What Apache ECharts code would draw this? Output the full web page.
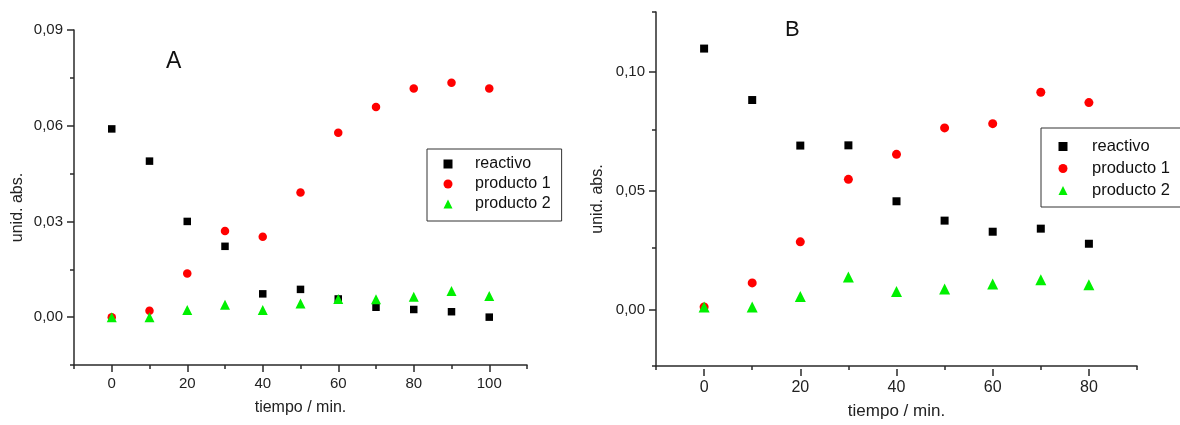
<!DOCTYPE html>
<html>
<head>
<meta charset="utf-8">
<script src="https://cdn.jsdelivr.net/npm/echarts@6/dist/echarts.min.js"></script>
<style>
  html, body { margin: 0; padding: 0; background: #fff; }
  #chart { width: 1180px; height: 425px; }
</style>
</head>
<body>
<div id="chart"></div>
<script>
// panel A
const timesA = [0, 10, 20, 30, 40, 50, 60, 70, 80, 90, 100];
const reactivoA = [0.059, 0.0489, 0.030, 0.0222, 0.0073, 0.0087, 0.0057, 0.0031, 0.0024, 0.0017, 0.0];
const producto1A = [0.0, 0.0020, 0.0137, 0.0270, 0.0252, 0.0391, 0.0578, 0.0659, 0.0717, 0.0735, 0.0717];
const producto2A = [0.0, 0.0, 0.0022, 0.0039, 0.0022, 0.0043, 0.0057, 0.0056, 0.0064, 0.0082, 0.0066];
// labelled ticks: [first, last, step]
const xTicksA = [0, 100, 20];
const yTicksA = [0, 0.09, 0.03];

// panel B
const timesB = [0, 10, 20, 30, 40, 50, 60, 70, 80];
const reactivoB = [0.1095, 0.0877, 0.0684, 0.0685, 0.0448, 0.0366, 0.0319, 0.0332, 0.0268];
const producto1B = [0.0, 0.0102, 0.0276, 0.0541, 0.0647, 0.0759, 0.0777, 0.0910, 0.0866];
const producto2B = [0.0, 0.0, 0.0045, 0.0127, 0.0066, 0.0076, 0.0097, 0.0115, 0.0094];
const xTicksB = [0, 80, 20];
const yTicksB = [0, 0.10, 0.05];

const names = ["reactivo", "producto 1", "producto 2"];
const FONT = "Liberation Sans, Arial, sans-serif";
const AXIS = "#2a2a2a";
const tickLine = { color: AXIS, width: 1.5 };

const fmtY = (v) => v.toFixed(2).replace(".", ",");

// panel frames: main grid box and axis ranges
const panelA = { left: 74, top: 30, width: 453, height: 335, x: [-10, 110], y: [-0.015, 0.09], xs: xTicksA, ys: yTicksA, xFont: 15, nameFont: 16, xGap: 35, yGap: 48 };
const panelB = { left: 656, top: 12, width: 481, height: 357, x: [-10, 90], y: [-0.025, 0.125], xs: xTicksB, ys: yTicksB, xFont: 16, nameFont: 17, xGap: 37, yGap: 50 };

const chart = echarts.init(document.getElementById("chart"), null, { renderer: "canvas" });

const grids = [], xAxis = [], yAxis = [];

// each panel = a main grid (axis lines, short ticks between labels, data)
// plus an overlay grid spanning only the labelled range, whose axes are shifted onto the main ones
function addPanel(p) {
	const px = (v) => p.left + (v - p.x[0]) / (p.x[1] - p.x[0]) * p.width;
	const py = (v) => p.top + (p.y[1] - v) / (p.y[1] - p.y[0]) * p.height;
	const g = grids.length;
	grids.push({ left: p.left, top: p.top, width: p.width, height: p.height });
	const oLeft = px(p.xs[0]), oRight = px(p.xs[1]);
	const oTop = py(p.ys[1]), oBottom = py(p.ys[0]);
	grids.push({ left: oLeft, top: oTop, width: oRight - oLeft, height: oBottom - oTop });

	xAxis.push({
		gridIndex: g, type: "value", position: "bottom", min: p.x[0], max: p.x[1], interval: p.xs[2],
		axisLine: { show: true, onZero: false, lineStyle: { color: AXIS, width: 1.5 } },
		axisTick: { show: true, length: 4, lineStyle: tickLine },
		axisLabel: { show: false }, splitLine: { show: false },
		name: "tiempo / min.", nameLocation: "middle", nameGap: p.xGap,
		nameTextStyle: { color: "#222", fontSize: p.nameFont, fontFamily: FONT },
	});
	xAxis.push({
		gridIndex: g + 1, type: "value", position: "bottom", offset: p.top + p.height - oBottom,
		min: p.xs[0], max: p.xs[1], interval: p.xs[2],
		axisLine: { show: false, onZero: false },
		axisTick: { show: true, length: 7, lineStyle: tickLine },
		axisLabel: { margin: 11, color: "#222", fontSize: p.xFont, fontFamily: FONT },
		splitLine: { show: false },
	});
	yAxis.push({
		gridIndex: g, type: "value", position: "left", min: p.y[0], max: p.y[1], interval: p.ys[2],
		axisLine: { show: true, onZero: false, lineStyle: { color: AXIS, width: 1.5 } },
		axisTick: { show: true, length: 4, lineStyle: tickLine },
		axisLabel: { show: false }, splitLine: { show: false },
		name: "unid. abs.", nameLocation: "middle", nameGap: p.yGap, nameRotate: 90,
		nameTextStyle: { color: "#222", fontSize: 16, fontFamily: FONT, padding: [0, 20, 0, 0] },
	});
	yAxis.push({
		gridIndex: g + 1, type: "value", position: "left", offset: oLeft - p.left,
		min: p.ys[0], max: p.ys[1], interval: p.ys[2],
		axisLine: { show: false, onZero: false },
		axisTick: { show: true, length: 7, lineStyle: tickLine },
		axisLabel: { margin: 11, color: "#222", fontSize: 15, fontFamily: FONT, formatter: fmtY },
		splitLine: { show: false },
	});
	return g;
}

const gA = addPanel(panelA);
const gB = addPanel(panelB);

function scatter(name, g, times, values, symbol, size, color) {
	return {
		name, type: "scatter", xAxisIndex: g, yAxisIndex: g,
		symbol, symbolSize: size,
		itemStyle: { color, opacity: 1 },
		data: times.map((t, i) => [t, values[i]]),
	};
}

function legend(left, top, gap, padding, textPad, fontSize) {
	return {
		orient: "vertical", left, top, itemGap: gap, padding,
		itemWidth: 9, itemHeight: 9,
		borderColor: "#333", borderWidth: 1,
		data: names,
		textStyle: { color: "#111", fontSize, lineHeight: fontSize, fontFamily: FONT, padding: [0, 0, 0, textPad] },
	};
}

const GREEN = "#00f000";

chart.setOption({
	animation: false,
	backgroundColor: "#fff",
	title: [
		{ text: "A", left: 161, top: 45, textStyle: { fontSize: 23, fontWeight: "normal", color: "#111", fontFamily: FONT } },
		{ text: "B", left: 780, top: 14, textStyle: { fontSize: 22, fontWeight: "normal", color: "#111", fontFamily: FONT } },
	],
	legend: [
		legend(427, 149, 4, [7, 11, 9, 16.5], 17.5, 16),
		legend(1041, 128, 5, [10, 14, 8, 17.5], 19.5, 16.5),
	],
	grid: grids,
	xAxis,
	yAxis,
	series: [
		scatter(names[0], gA, timesA, reactivoA, "rect", 7.5, "#000"),
		scatter(names[1], gA, timesA, producto1A, "circle", 8.5, "#ff0000"),
		scatter(names[2], gA, timesA, producto2A, "triangle", 10, GREEN),
		scatter(names[0], gB, timesB, reactivoB, "rect", 8, "#000"),
		scatter(names[1], gB, timesB, producto1B, "circle", 9, "#ff0000"),
		scatter(names[2], gB, timesB, producto2B, "triangle", 11, GREEN),
	],
});
</script>
</body>
</html>
